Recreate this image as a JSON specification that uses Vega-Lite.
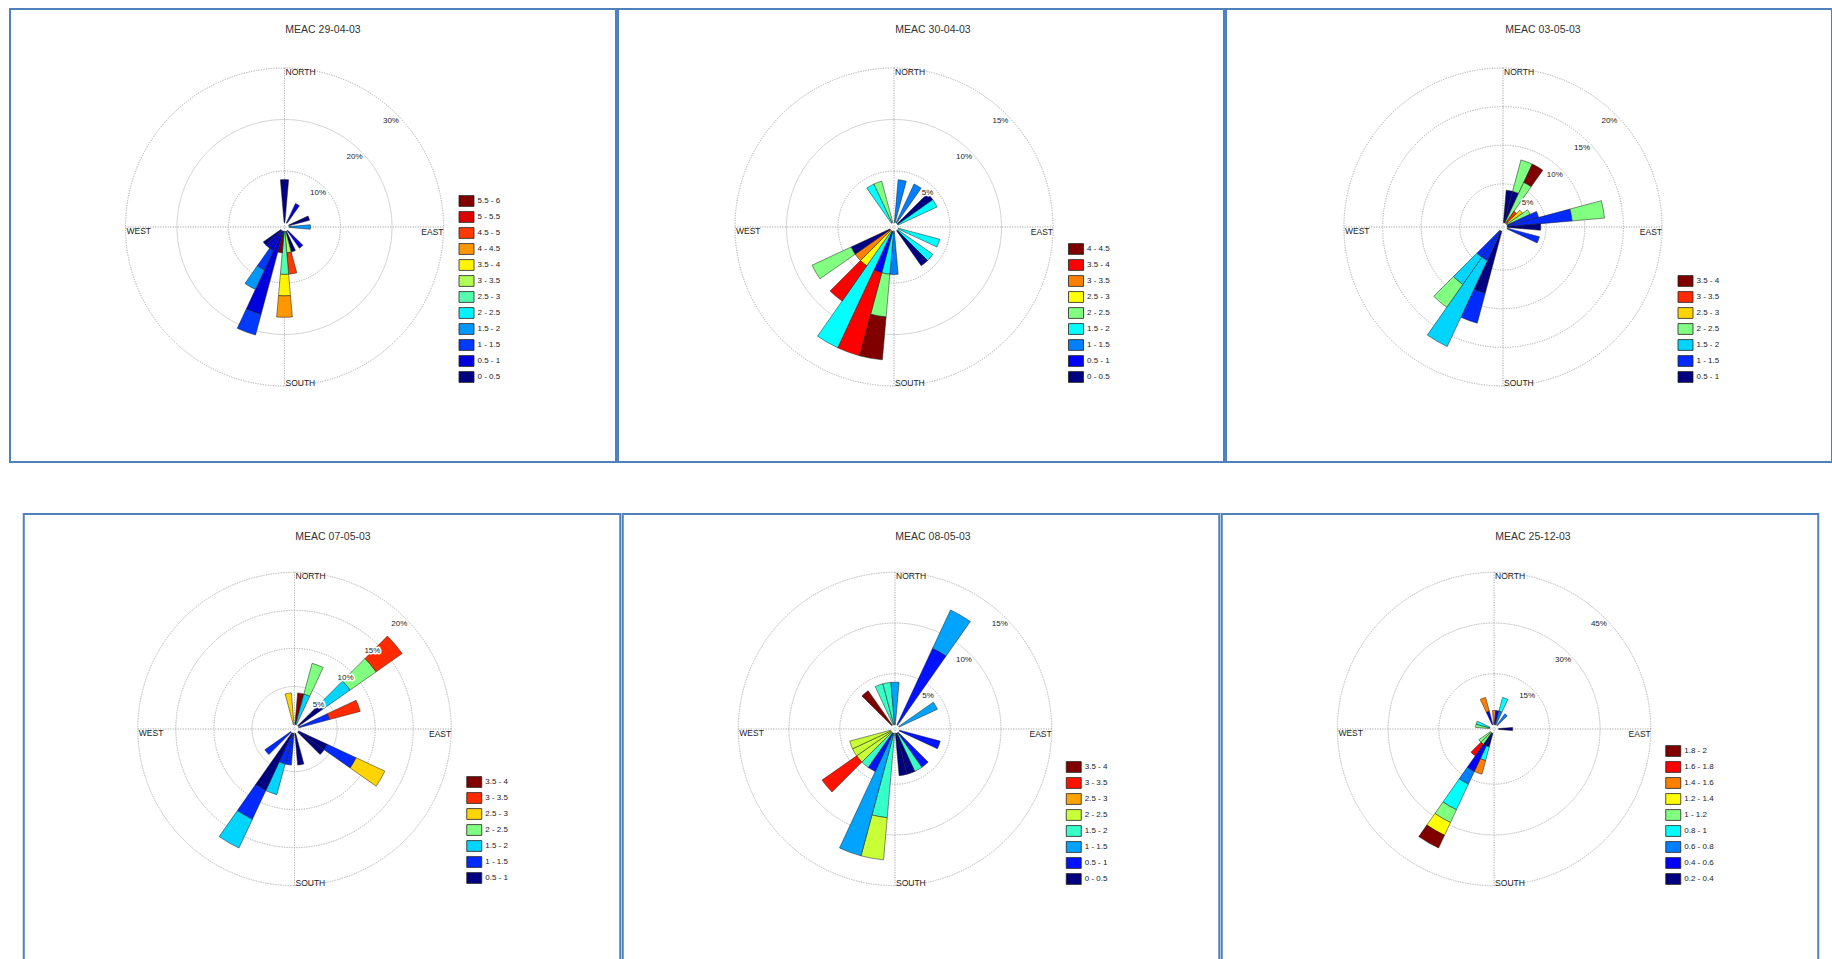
{
"$schema": "https://vega.github.io/schema/vega-lite/v6.json",
"padding": {"left": 9, "top": 8, "right": 0, "bottom": 0},
"background": "white",
"config": {"view": {"stroke": "#4f81bd", "strokeWidth": 2}, "font": "Liberation Sans"},
"datasets": {
"p1": [
{"d":0,"s":"0 - 0.5","v":8.33},
{"d":30,"s":"0.5 - 1","v":4.17},
{"d":70,"s":"0 - 0.5","v":4.17},
{"d":90,"s":"1.5 - 2","v":4.17},
{"d":140,"s":"0.5 - 1","v":4.17},
{"d":160,"s":"0 - 0.5","v":4.17},
{"d":170,"s":"3 - 3.5","v":4.17},{"d":170,"s":"4.5 - 5","v":4.17},
{"d":180,"s":"2.5 - 3","v":8.33},{"d":180,"s":"3.5 - 4","v":4.17},{"d":180,"s":"4 - 4.5","v":4.17},
{"d":190,"s":"5.5 - 6","v":4.17},
{"d":200,"s":"0.5 - 1","v":16.67},{"d":200,"s":"1 - 1.5","v":4.17},
{"d":210,"s":"0.5 - 1","v":4.17},{"d":210,"s":"1 - 1.5","v":4.17},{"d":210,"s":"1.5 - 2","v":4.17},
{"d":220,"s":"0.5 - 1","v":4.17},
{"d":230,"s":"0 - 0.5","v":4.17}
],
"p2": [
{"d":330,"s":"1.5 - 2","v":4.17},
{"d":340,"s":"2 - 2.5","v":4.17},
{"d":10,"s":"1 - 1.5","v":4.17},
{"d":30,"s":"1 - 1.5","v":4.17},
{"d":50,"s":"0 - 0.5","v":4.17},
{"d":60,"s":"1.5 - 2","v":4.17},
{"d":110,"s":"1.5 - 2","v":4.17},
{"d":130,"s":"1.5 - 2","v":4.17},
{"d":140,"s":"0 - 0.5","v":4.17},
{"d":180,"s":"1 - 1.5","v":4.17},
{"d":190,"s":"1.5 - 2","v":4.17},{"d":190,"s":"2 - 2.5","v":4.17},{"d":190,"s":"4 - 4.5","v":4.17},
{"d":200,"s":"0.5 - 1","v":4.17},{"d":200,"s":"3.5 - 4","v":8.33},
{"d":210,"s":"1.5 - 2","v":12.5},
{"d":220,"s":"2.5 - 3","v":4.17},{"d":220,"s":"3.5 - 4","v":4.17},
{"d":230,"s":"3 - 3.5","v":4.17},
{"d":240,"s":"0 - 0.5","v":4.17},{"d":240,"s":"2 - 2.5","v":4.17}
],
"p3": [
{"d":10,"s":"0.5 - 1","v":4.2},
{"d":20,"s":"0.5 - 1","v":4.2},{"d":20,"s":"2 - 2.5","v":4.2},
{"d":30,"s":"2 - 2.5","v":5.8},{"d":30,"s":"3.5 - 4","v":2.6},
{"d":40,"s":"3 - 3.5","v":1.9},
{"d":50,"s":"2.5 - 3","v":2.5},
{"d":60,"s":"2 - 2.5","v":3.3},
{"d":70,"s":"1 - 1.5","v":4.2},
{"d":80,"s":"1 - 1.5","v":8.4},{"d":80,"s":"2 - 2.5","v":4.2},
{"d":90,"s":"0.5 - 1","v":4.3},
{"d":110,"s":"1 - 1.5","v":4.3},
{"d":200,"s":"0.5 - 1","v":8.3},{"d":200,"s":"1 - 1.5","v":4.0},
{"d":210,"s":"1 - 1.5","v":4.2},{"d":210,"s":"1.5 - 2","v":12.3},
{"d":220,"s":"1 - 1.5","v":4.2},{"d":220,"s":"1.5 - 2","v":4.3},{"d":220,"s":"2 - 2.5","v":3.6}
],
"p4": [
{"d":350,"s":"2.5 - 3","v":4.17},
{"d":10,"s":"3.5 - 4","v":4.17},
{"d":20,"s":"1.5 - 2","v":4.17},{"d":20,"s":"2 - 2.5","v":4.17},
{"d":50,"s":"0.5 - 1","v":4.17},{"d":50,"s":"1.5 - 2","v":4.17},{"d":50,"s":"2 - 2.5","v":4.17},{"d":50,"s":"3 - 3.5","v":4.17},
{"d":70,"s":"1 - 1.5","v":4.17},{"d":70,"s":"3 - 3.5","v":4.17},
{"d":120,"s":"0.5 - 1","v":4.17},{"d":120,"s":"1 - 1.5","v":4.17},{"d":120,"s":"2.5 - 3","v":4.17},
{"d":130,"s":"0.5 - 1","v":4.17},
{"d":170,"s":"0.5 - 1","v":4.17},
{"d":190,"s":"1 - 1.5","v":4.17},
{"d":200,"s":"1 - 1.5","v":4.17},{"d":200,"s":"1.5 - 2","v":4.17},
{"d":210,"s":"0.5 - 1","v":8.33},{"d":210,"s":"1 - 1.5","v":4.17},{"d":210,"s":"1.5 - 2","v":4.17},
{"d":230,"s":"1 - 1.5","v":4.17}
],
"p5": [
{"d":320,"s":"3.5 - 4","v":4.17},
{"d":340,"s":"1.5 - 2","v":4.17},
{"d":350,"s":"1.5 - 2","v":4.17},
{"d":0,"s":"1 - 1.5","v":4.17},
{"d":30,"s":"0.5 - 1","v":8.33},{"d":30,"s":"1 - 1.5","v":4.17},
{"d":60,"s":"1 - 1.5","v":4.17},
{"d":110,"s":"0.5 - 1","v":4.17},
{"d":140,"s":"0.5 - 1","v":4.17},
{"d":150,"s":"1.5 - 2","v":4.17},
{"d":160,"s":"0 - 0.5","v":4.17},
{"d":170,"s":"0 - 0.5","v":4.17},
{"d":190,"s":"1.5 - 2","v":8.33},{"d":190,"s":"2 - 2.5","v":4.17},
{"d":200,"s":"1 - 1.5","v":12.5},
{"d":210,"s":"0.5 - 1","v":4.17},
{"d":220,"s":"1.5 - 2","v":4.17},
{"d":230,"s":"2 - 2.5","v":4.17},{"d":230,"s":"3 - 3.5","v":4.17},
{"d":240,"s":"2 - 2.5","v":4.17},
{"d":250,"s":"2 - 2.5","v":4.17}
],
"p6": [
{"d":0,"s":"1.4 - 1.6","v":4.17},
{"d":10,"s":"0.4 - 0.6","v":4.17},
{"d":20,"s":"0.6 - 0.8","v":4.17},{"d":20,"s":"0.8 - 1","v":4.17},
{"d":40,"s":"0.6 - 0.8","v":4.17},
{"d":90,"s":"0.2 - 0.4","v":4.17},
{"d":200,"s":"0.2 - 0.4","v":4.17},{"d":200,"s":"0.8 - 1","v":4.17},{"d":200,"s":"1.4 - 1.6","v":4.17},
{"d":210,"s":"0.2 - 0.4","v":4.17},{"d":210,"s":"0.4 - 0.6","v":8.33},{"d":210,"s":"0.6 - 0.8","v":4.17},{"d":210,"s":"0.8 - 1","v":8.33},{"d":210,"s":"1 - 1.2","v":4.17},{"d":210,"s":"1.2 - 1.4","v":4.17},{"d":210,"s":"1.8 - 2","v":4.17},
{"d":220,"s":"1 - 1.2","v":4.17},{"d":220,"s":"1.6 - 1.8","v":4.17},
{"d":230,"s":"1 - 1.2","v":4.17},
{"d":280,"s":"1 - 1.2","v":4.17},
{"d":290,"s":"0.8 - 1","v":4.17},
{"d":340,"s":"0.4 - 0.6","v":4.17},{"d":340,"s":"1.4 - 1.6","v":4.17}
]
},
"spacing": 50,
"center": true,
"resolve": {"scale": {"color": "independent", "theta": "independent", "radius": "independent", "x": "independent", "y": "independent"}, "legend": {"color": "independent"}},
"vconcat": [
{"hconcat": [
{
"width": 606, "height": 453,
"title": {"text": "MEAC 29-04-03", "offset": -34, "dx": 10, "baseline": "alphabetic", "fontSize": 10.5, "fontWeight": "normal", "color": "#333333"},
"encoding": {
"x": {"datum": 0, "type": "quantitative", "scale": {"domain": [-274.5, 331.5], "nice": false, "zero": false}, "axis": null},
"y": {"datum": 0, "type": "quantitative", "scale": {"domain": [-235, 218], "nice": false, "zero": false}, "axis": null}
},
"layer": [
{"data": {"values": [{"g": 10}, {"g": 20}, {"g": 30}]},
 "mark": {"type": "arc", "filled": false, "stroke": "#b5b5b5", "strokeWidth": 0.8, "strokeDash": [1, 1.5]},
 "encoding": {
  "theta": {"datum": 0, "type": "quantitative", "scale": {"type": "linear", "domain": [0, 360], "range": [0, 6.283185307179586], "nice": false, "zero": false}},
  "theta2": {"datum": 360},
  "radius": {"field": "g", "type": "quantitative", "scale": {"type": "linear", "domain": [-0.874, 30], "range": [0, 159], "nice": false, "zero": false}},
  "radius2": {"field": "g"}}},
{"data": {"values": [{"a": 0}, {"a": 90}, {"a": 180}, {"a": 270}]},
 "mark": {"type": "arc", "filled": false, "stroke": "#b5b5b5", "strokeWidth": 0.8, "strokeDash": [1, 1.5]},
 "encoding": {
  "theta": {"field": "a", "type": "quantitative", "stack": null},
  "theta2": {"field": "a"},
  "radius": {"datum": -0.874, "type": "quantitative"},
  "radius2": {"datum": 30}}},
{"data": {"name": "p1"},
 "transform": [
  {"stack": "v", "groupby": ["d"], "sort": [{"field": "s", "order": "ascending"}], "as": ["r0", "r1"]},
  {"calculate": "datum.d - 5", "as": "t0"},
  {"calculate": "datum.d + 5", "as": "t1"}],
 "mark": {"type": "arc", "stroke": "#1a1a1a", "strokeWidth": 0.5},
 "encoding": {
  "theta": {"field": "t0", "type": "quantitative", "stack": null},
  "theta2": {"field": "t1"},
  "radius": {"field": "r0", "type": "quantitative"},
  "radius2": {"field": "r1"},
  "color": {"field": "s", "type": "nominal",
   "scale": {"domain": ["5.5 - 6","5 - 5.5","4.5 - 5","4 - 4.5","3.5 - 4","3 - 3.5","2.5 - 3","2 - 2.5","1.5 - 2","1 - 1.5","0.5 - 1","0 - 0.5"],
             "range": ["#800000","#dc0000","#ff3a00","#ff9700","#fff400","#aeff51","#51ffae","#00f4ff","#0097ff","#003aff","#0000dc","#000080"]},
   "legend": {"title": null, "orient": "none", "legendX": 448.5, "legendY": 184, "padding": 0, "symbolType": "M-1,-0.72H1V0.72H-1Z", "symbolSize": 225, "symbolStrokeColor": "#222222", "symbolStrokeWidth": 0.8, "labelFontSize": 8, "labelColor": "#222222", "labelOffset": 3, "rowPadding": 1}}}},
{"data": {"values": [{"t": "NORTH", "a": 0}, {"t": "WEST", "a": 270}]},
 "mark": {"type": "text", "align": "left", "baseline": "top", "dx": 1, "fontSize": 8.5, "color": "#222222"},
 "encoding": {"theta": {"field": "a", "type": "quantitative", "stack": null}, "radius": {"datum": 30, "type": "quantitative"}, "text": {"field": "t"}}},
{"data": {"values": [{"t": "SOUTH", "a": 180}]},
 "mark": {"type": "text", "align": "left", "baseline": "alphabetic", "dx": 1, "fontSize": 8.5, "color": "#222222"},
 "encoding": {"theta": {"field": "a", "type": "quantitative", "stack": null}, "radius": {"datum": 30, "type": "quantitative"}, "text": {"field": "t"}}},
{"data": {"values": [{"t": "EAST", "a": 90}]},
 "mark": {"type": "text", "align": "right", "baseline": "top", "dy": 1, "fontSize": 8.5, "color": "#222222"},
 "encoding": {"theta": {"field": "a", "type": "quantitative", "stack": null}, "radius": {"datum": 30, "type": "quantitative"}, "text": {"field": "t"}}},
{"data": {"values": [{"g": 10, "t": "10%"}, {"g": 20, "t": "20%"}, {"g": 30, "t": "30%"}]},
 "mark": {"type": "text", "dx": -6, "dy": 6, "fontSize": 8, "fill": "white", "stroke": "white", "strokeWidth": 3, "strokeJoin": "round"},
 "encoding": {"theta": {"datum": 45, "type": "quantitative"}, "radius": {"field": "g", "type": "quantitative"}, "text": {"field": "t"}}},
{"data": {"values": [{"g": 10, "t": "10%"}, {"g": 20, "t": "20%"}, {"g": 30, "t": "30%"}]},
 "mark": {"type": "text", "dx": -6, "dy": 6, "fontSize": 8, "color": "#222222"},
 "encoding": {"theta": {"datum": 45, "type": "quantitative"}, "radius": {"field": "g", "type": "quantitative"}, "text": {"field": "t"}}}
]
},
{
"width": 606, "height": 453,
"title": {"text": "MEAC 30-04-03", "offset": -34, "dx": 12, "baseline": "alphabetic", "fontSize": 10.5, "fontWeight": "normal", "color": "#333333"},
"encoding": {
"x": {"datum": 0, "type": "quantitative", "scale": {"domain": [-276, 330], "nice": false, "zero": false}, "axis": null},
"y": {"datum": 0, "type": "quantitative", "scale": {"domain": [-235, 218], "nice": false, "zero": false}, "axis": null}
},
"layer": [
{"data": {"values": [{"g": 5}, {"g": 10}, {"g": 15}]},
 "mark": {"type": "arc", "filled": false, "stroke": "#b5b5b5", "strokeWidth": 0.8, "strokeDash": [1, 1.5]},
 "encoding": {
  "theta": {"datum": 0, "type": "quantitative", "scale": {"type": "linear", "domain": [0, 360], "range": [0, 6.283185307179586], "nice": false, "zero": false}},
  "theta2": {"datum": 360},
  "radius": {"field": "g", "type": "quantitative", "scale": {"type": "linear", "domain": [-0.437, 15], "range": [0, 159], "nice": false, "zero": false}},
  "radius2": {"field": "g"}}},
{"data": {"values": [{"a": 0}, {"a": 90}, {"a": 180}, {"a": 270}]},
 "mark": {"type": "arc", "filled": false, "stroke": "#b5b5b5", "strokeWidth": 0.8, "strokeDash": [1, 1.5]},
 "encoding": {
  "theta": {"field": "a", "type": "quantitative", "stack": null},
  "theta2": {"field": "a"},
  "radius": {"datum": -0.437, "type": "quantitative"},
  "radius2": {"datum": 15}}},
{"data": {"name": "p2"},
 "transform": [
  {"stack": "v", "groupby": ["d"], "sort": [{"field": "s", "order": "ascending"}], "as": ["r0", "r1"]},
  {"calculate": "datum.d - 5", "as": "t0"},
  {"calculate": "datum.d + 5", "as": "t1"}],
 "mark": {"type": "arc", "stroke": "#1a1a1a", "strokeWidth": 0.5},
 "encoding": {
  "theta": {"field": "t0", "type": "quantitative", "stack": null},
  "theta2": {"field": "t1"},
  "radius": {"field": "r0", "type": "quantitative"},
  "radius2": {"field": "r1"},
  "color": {"field": "s", "type": "nominal",
   "scale": {"domain": ["4 - 4.5","3.5 - 4","3 - 3.5","2.5 - 3","2 - 2.5","1.5 - 2","1 - 1.5","0.5 - 1","0 - 0.5"],
             "range": ["#800000","#ff0000","#ff8000","#ffff00","#80ff80","#00ffff","#0080ff","#0000ff","#000080"]},
   "legend": {"title": null, "orient": "none", "legendX": 450, "legendY": 232, "padding": 0, "symbolType": "M-1,-0.72H1V0.72H-1Z", "symbolSize": 225, "symbolStrokeColor": "#222222", "symbolStrokeWidth": 0.8, "labelFontSize": 8, "labelColor": "#222222", "labelOffset": 3, "rowPadding": 1}}}},
{"data": {"values": [{"t": "NORTH", "a": 0}, {"t": "WEST", "a": 270}]},
 "mark": {"type": "text", "align": "left", "baseline": "top", "dx": 1, "fontSize": 8.5, "color": "#222222"},
 "encoding": {"theta": {"field": "a", "type": "quantitative", "stack": null}, "radius": {"datum": 15, "type": "quantitative"}, "text": {"field": "t"}}},
{"data": {"values": [{"t": "SOUTH", "a": 180}]},
 "mark": {"type": "text", "align": "left", "baseline": "alphabetic", "dx": 1, "fontSize": 8.5, "color": "#222222"},
 "encoding": {"theta": {"field": "a", "type": "quantitative", "stack": null}, "radius": {"datum": 15, "type": "quantitative"}, "text": {"field": "t"}}},
{"data": {"values": [{"t": "EAST", "a": 90}]},
 "mark": {"type": "text", "align": "right", "baseline": "top", "dy": 1, "fontSize": 8.5, "color": "#222222"},
 "encoding": {"theta": {"field": "a", "type": "quantitative", "stack": null}, "radius": {"datum": 15, "type": "quantitative"}, "text": {"field": "t"}}},
{"data": {"values": [{"g": 5, "t": "5%"}, {"g": 10, "t": "10%"}, {"g": 15, "t": "15%"}]},
 "mark": {"type": "text", "dx": -6, "dy": 6, "fontSize": 8, "fill": "white", "stroke": "white", "strokeWidth": 3, "strokeJoin": "round"},
 "encoding": {"theta": {"datum": 45, "type": "quantitative"}, "radius": {"field": "g", "type": "quantitative"}, "text": {"field": "t"}}},
{"data": {"values": [{"g": 5, "t": "5%"}, {"g": 10, "t": "10%"}, {"g": 15, "t": "15%"}]},
 "mark": {"type": "text", "dx": -6, "dy": 6, "fontSize": 8, "color": "#222222"},
 "encoding": {"theta": {"datum": 45, "type": "quantitative"}, "radius": {"field": "g", "type": "quantitative"}, "text": {"field": "t"}}}
]
},
{
"width": 606, "height": 453,
"title": {"text": "MEAC 03-05-03", "offset": -34, "dx": 14, "baseline": "alphabetic", "fontSize": 10.5, "fontWeight": "normal", "color": "#333333"},
"encoding": {
"x": {"datum": 0, "type": "quantitative", "scale": {"domain": [-277, 329], "nice": false, "zero": false}, "axis": null},
"y": {"datum": 0, "type": "quantitative", "scale": {"domain": [-235, 218], "nice": false, "zero": false}, "axis": null}
},
"layer": [
{"data": {"values": [{"g": 5}, {"g": 10}, {"g": 15}, {"g": 20}]},
 "mark": {"type": "arc", "filled": false, "stroke": "#b5b5b5", "strokeWidth": 0.8, "strokeDash": [1, 1.5]},
 "encoding": {
  "theta": {"datum": 0, "type": "quantitative", "scale": {"type": "linear", "domain": [0, 360], "range": [0, 6.283185307179586], "nice": false, "zero": false}},
  "theta2": {"datum": 360},
  "radius": {"field": "g", "type": "quantitative", "scale": {"type": "linear", "domain": [-0.583, 20], "range": [0, 159], "nice": false, "zero": false}},
  "radius2": {"field": "g"}}},
{"data": {"values": [{"a": 0}, {"a": 90}, {"a": 180}, {"a": 270}]},
 "mark": {"type": "arc", "filled": false, "stroke": "#b5b5b5", "strokeWidth": 0.8, "strokeDash": [1, 1.5]},
 "encoding": {
  "theta": {"field": "a", "type": "quantitative", "stack": null},
  "theta2": {"field": "a"},
  "radius": {"datum": -0.583, "type": "quantitative"},
  "radius2": {"datum": 20}}},
{"data": {"name": "p3"},
 "transform": [
  {"stack": "v", "groupby": ["d"], "sort": [{"field": "s", "order": "ascending"}], "as": ["r0", "r1"]},
  {"calculate": "datum.d - 5", "as": "t0"},
  {"calculate": "datum.d + 5", "as": "t1"}],
 "mark": {"type": "arc", "stroke": "#1a1a1a", "strokeWidth": 0.5},
 "encoding": {
  "theta": {"field": "t0", "type": "quantitative", "stack": null},
  "theta2": {"field": "t1"},
  "radius": {"field": "r0", "type": "quantitative"},
  "radius2": {"field": "r1"},
  "color": {"field": "s", "type": "nominal",
   "scale": {"domain": ["3.5 - 4","3 - 3.5","2.5 - 3","2 - 2.5","1.5 - 2","1 - 1.5","0.5 - 1"],
             "range": ["#800000","#ff2a00","#ffd400","#80ff80","#00d4ff","#002aff","#000080"]},
   "legend": {"title": null, "orient": "none", "legendX": 451.5, "legendY": 264, "padding": 0, "symbolType": "M-1,-0.72H1V0.72H-1Z", "symbolSize": 225, "symbolStrokeColor": "#222222", "symbolStrokeWidth": 0.8, "labelFontSize": 8, "labelColor": "#222222", "labelOffset": 3, "rowPadding": 1}}}},
{"data": {"values": [{"t": "NORTH", "a": 0}, {"t": "WEST", "a": 270}]},
 "mark": {"type": "text", "align": "left", "baseline": "top", "dx": 1, "fontSize": 8.5, "color": "#222222"},
 "encoding": {"theta": {"field": "a", "type": "quantitative", "stack": null}, "radius": {"datum": 20, "type": "quantitative"}, "text": {"field": "t"}}},
{"data": {"values": [{"t": "SOUTH", "a": 180}]},
 "mark": {"type": "text", "align": "left", "baseline": "alphabetic", "dx": 1, "fontSize": 8.5, "color": "#222222"},
 "encoding": {"theta": {"field": "a", "type": "quantitative", "stack": null}, "radius": {"datum": 20, "type": "quantitative"}, "text": {"field": "t"}}},
{"data": {"values": [{"t": "EAST", "a": 90}]},
 "mark": {"type": "text", "align": "right", "baseline": "top", "dy": 1, "fontSize": 8.5, "color": "#222222"},
 "encoding": {"theta": {"field": "a", "type": "quantitative", "stack": null}, "radius": {"datum": 20, "type": "quantitative"}, "text": {"field": "t"}}},
{"data": {"values": [{"g": 5, "t": "5%"}, {"g": 10, "t": "10%"}, {"g": 15, "t": "15%"}, {"g": 20, "t": "20%"}]},
 "mark": {"type": "text", "dx": -6, "dy": 6, "fontSize": 8, "fill": "white", "stroke": "white", "strokeWidth": 3, "strokeJoin": "round"},
 "encoding": {"theta": {"datum": 45, "type": "quantitative"}, "radius": {"field": "g", "type": "quantitative"}, "text": {"field": "t"}}},
{"data": {"values": [{"g": 5, "t": "5%"}, {"g": 10, "t": "10%"}, {"g": 15, "t": "15%"}, {"g": 20, "t": "20%"}]},
 "mark": {"type": "text", "dx": -6, "dy": 6, "fontSize": 8, "color": "#222222"},
 "encoding": {"theta": {"datum": 45, "type": "quantitative"}, "radius": {"field": "g", "type": "quantitative"}, "text": {"field": "t"}}}
]
}
], "spacing": 0,
"resolve": {"scale": {"color": "independent", "theta": "independent", "radius": "independent", "x": "independent", "y": "independent"}, "legend": {"color": "independent"}}},
{"hconcat": [
{
"width": 596.5, "height": 450,
"title": {"text": "MEAC 07-05-03", "offset": -36, "dx": 11, "baseline": "alphabetic", "fontSize": 10.5, "fontWeight": "normal", "color": "#333333"},
"encoding": {
"x": {"datum": 0, "type": "quantitative", "scale": {"domain": [-270.75, 325.75], "nice": false, "zero": false}, "axis": null},
"y": {"datum": 0, "type": "quantitative", "scale": {"domain": [-235, 215], "nice": false, "zero": false}, "axis": null}
},
"layer": [
{"data": {"values": [{"g": 5}, {"g": 10}, {"g": 15}, {"g": 20}]},
 "mark": {"type": "arc", "filled": false, "stroke": "#b5b5b5", "strokeWidth": 0.8, "strokeDash": [1, 1.5]},
 "encoding": {
  "theta": {"datum": 0, "type": "quantitative", "scale": {"type": "linear", "domain": [0, 360], "range": [0, 6.283185307179586], "nice": false, "zero": false}},
  "theta2": {"datum": 360},
  "radius": {"field": "g", "type": "quantitative", "scale": {"type": "linear", "domain": [-0.591, 20], "range": [0, 156.7], "nice": false, "zero": false}},
  "radius2": {"field": "g"}}},
{"data": {"values": [{"a": 0}, {"a": 90}, {"a": 180}, {"a": 270}]},
 "mark": {"type": "arc", "filled": false, "stroke": "#b5b5b5", "strokeWidth": 0.8, "strokeDash": [1, 1.5]},
 "encoding": {
  "theta": {"field": "a", "type": "quantitative", "stack": null},
  "theta2": {"field": "a"},
  "radius": {"datum": -0.591, "type": "quantitative"},
  "radius2": {"datum": 20}}},
{"data": {"name": "p4"},
 "transform": [
  {"stack": "v", "groupby": ["d"], "sort": [{"field": "s", "order": "ascending"}], "as": ["r0", "r1"]},
  {"calculate": "datum.d - 5", "as": "t0"},
  {"calculate": "datum.d + 5", "as": "t1"}],
 "mark": {"type": "arc", "stroke": "#1a1a1a", "strokeWidth": 0.5},
 "encoding": {
  "theta": {"field": "t0", "type": "quantitative", "stack": null},
  "theta2": {"field": "t1"},
  "radius": {"field": "r0", "type": "quantitative"},
  "radius2": {"field": "r1"},
  "color": {"field": "s", "type": "nominal",
   "scale": {"domain": ["3.5 - 4","3 - 3.5","2.5 - 3","2 - 2.5","1.5 - 2","1 - 1.5","0.5 - 1"],
             "range": ["#800000","#ff2a00","#ffd400","#80ff80","#00d4ff","#002aff","#000080"]},
   "legend": {"title": null, "orient": "none", "legendX": 442.5, "legendY": 260, "padding": 0, "symbolType": "M-1,-0.72H1V0.72H-1Z", "symbolSize": 225, "symbolStrokeColor": "#222222", "symbolStrokeWidth": 0.8, "labelFontSize": 8, "labelColor": "#222222", "labelOffset": 3, "rowPadding": 1}}}},
{"data": {"values": [{"t": "NORTH", "a": 0}, {"t": "WEST", "a": 270}]},
 "mark": {"type": "text", "align": "left", "baseline": "top", "dx": 1, "fontSize": 8.5, "color": "#222222"},
 "encoding": {"theta": {"field": "a", "type": "quantitative", "stack": null}, "radius": {"datum": 20, "type": "quantitative"}, "text": {"field": "t"}}},
{"data": {"values": [{"t": "SOUTH", "a": 180}]},
 "mark": {"type": "text", "align": "left", "baseline": "alphabetic", "dx": 1, "fontSize": 8.5, "color": "#222222"},
 "encoding": {"theta": {"field": "a", "type": "quantitative", "stack": null}, "radius": {"datum": 20, "type": "quantitative"}, "text": {"field": "t"}}},
{"data": {"values": [{"t": "EAST", "a": 90}]},
 "mark": {"type": "text", "align": "right", "baseline": "top", "dy": 1, "fontSize": 8.5, "color": "#222222"},
 "encoding": {"theta": {"field": "a", "type": "quantitative", "stack": null}, "radius": {"datum": 20, "type": "quantitative"}, "text": {"field": "t"}}},
{"data": {"values": [{"g": 5, "t": "5%"}, {"g": 10, "t": "10%"}, {"g": 15, "t": "15%"}, {"g": 20, "t": "20%"}]},
 "mark": {"type": "text", "dx": -6, "dy": 6, "fontSize": 8, "fill": "white", "stroke": "white", "strokeWidth": 3, "strokeJoin": "round"},
 "encoding": {"theta": {"datum": 45, "type": "quantitative"}, "radius": {"field": "g", "type": "quantitative"}, "text": {"field": "t"}}},
{"data": {"values": [{"g": 5, "t": "5%"}, {"g": 10, "t": "10%"}, {"g": 15, "t": "15%"}, {"g": 20, "t": "20%"}]},
 "mark": {"type": "text", "dx": -6, "dy": 6, "fontSize": 8, "color": "#222222"},
 "encoding": {"theta": {"datum": 45, "type": "quantitative"}, "radius": {"field": "g", "type": "quantitative"}, "text": {"field": "t"}}}
]
},
{
"width": 596.5, "height": 450,
"title": {"text": "MEAC 08-05-03", "offset": -36, "dx": 12, "baseline": "alphabetic", "fontSize": 10.5, "fontWeight": "normal", "color": "#333333"},
"encoding": {
"x": {"datum": 0, "type": "quantitative", "scale": {"domain": [-272.25, 324.25], "nice": false, "zero": false}, "axis": null},
"y": {"datum": 0, "type": "quantitative", "scale": {"domain": [-235, 215], "nice": false, "zero": false}, "axis": null}
},
"layer": [
{"data": {"values": [{"g": 5}, {"g": 10}, {"g": 15}]},
 "mark": {"type": "arc", "filled": false, "stroke": "#b5b5b5", "strokeWidth": 0.8, "strokeDash": [1, 1.5]},
 "encoding": {
  "theta": {"datum": 0, "type": "quantitative", "scale": {"type": "linear", "domain": [0, 360], "range": [0, 6.283185307179586], "nice": false, "zero": false}},
  "theta2": {"datum": 360},
  "radius": {"field": "g", "type": "quantitative", "scale": {"type": "linear", "domain": [-0.4435, 15], "range": [0, 156.7], "nice": false, "zero": false}},
  "radius2": {"field": "g"}}},
{"data": {"values": [{"a": 0}, {"a": 90}, {"a": 180}, {"a": 270}]},
 "mark": {"type": "arc", "filled": false, "stroke": "#b5b5b5", "strokeWidth": 0.8, "strokeDash": [1, 1.5]},
 "encoding": {
  "theta": {"field": "a", "type": "quantitative", "stack": null},
  "theta2": {"field": "a"},
  "radius": {"datum": -0.4435, "type": "quantitative"},
  "radius2": {"datum": 15}}},
{"data": {"name": "p5"},
 "transform": [
  {"stack": "v", "groupby": ["d"], "sort": [{"field": "s", "order": "ascending"}], "as": ["r0", "r1"]},
  {"calculate": "datum.d - 5", "as": "t0"},
  {"calculate": "datum.d + 5", "as": "t1"}],
 "mark": {"type": "arc", "stroke": "#1a1a1a", "strokeWidth": 0.5},
 "encoding": {
  "theta": {"field": "t0", "type": "quantitative", "stack": null},
  "theta2": {"field": "t1"},
  "radius": {"field": "r0", "type": "quantitative"},
  "radius2": {"field": "r1"},
  "color": {"field": "s", "type": "nominal",
   "scale": {"domain": ["3.5 - 4","3 - 3.5","2.5 - 3","2 - 2.5","1.5 - 2","1 - 1.5","0.5 - 1","0 - 0.5"],
             "range": ["#800000","#ff1200","#ffa400","#c8ff37","#37ffc8","#00a4ff","#0012ff","#000080"]},
   "legend": {"title": null, "orient": "none", "legendX": 443, "legendY": 245, "padding": 0, "symbolType": "M-1,-0.72H1V0.72H-1Z", "symbolSize": 225, "symbolStrokeColor": "#222222", "symbolStrokeWidth": 0.8, "labelFontSize": 8, "labelColor": "#222222", "labelOffset": 3, "rowPadding": 1}}}},
{"data": {"values": [{"t": "NORTH", "a": 0}, {"t": "WEST", "a": 270}]},
 "mark": {"type": "text", "align": "left", "baseline": "top", "dx": 1, "fontSize": 8.5, "color": "#222222"},
 "encoding": {"theta": {"field": "a", "type": "quantitative", "stack": null}, "radius": {"datum": 15, "type": "quantitative"}, "text": {"field": "t"}}},
{"data": {"values": [{"t": "SOUTH", "a": 180}]},
 "mark": {"type": "text", "align": "left", "baseline": "alphabetic", "dx": 1, "fontSize": 8.5, "color": "#222222"},
 "encoding": {"theta": {"field": "a", "type": "quantitative", "stack": null}, "radius": {"datum": 15, "type": "quantitative"}, "text": {"field": "t"}}},
{"data": {"values": [{"t": "EAST", "a": 90}]},
 "mark": {"type": "text", "align": "right", "baseline": "top", "dy": 1, "fontSize": 8.5, "color": "#222222"},
 "encoding": {"theta": {"field": "a", "type": "quantitative", "stack": null}, "radius": {"datum": 15, "type": "quantitative"}, "text": {"field": "t"}}},
{"data": {"values": [{"g": 5, "t": "5%"}, {"g": 10, "t": "10%"}, {"g": 15, "t": "15%"}]},
 "mark": {"type": "text", "dx": -6, "dy": 6, "fontSize": 8, "fill": "white", "stroke": "white", "strokeWidth": 3, "strokeJoin": "round"},
 "encoding": {"theta": {"datum": 45, "type": "quantitative"}, "radius": {"field": "g", "type": "quantitative"}, "text": {"field": "t"}}},
{"data": {"values": [{"g": 5, "t": "5%"}, {"g": 10, "t": "10%"}, {"g": 15, "t": "15%"}]},
 "mark": {"type": "text", "dx": -6, "dy": 6, "fontSize": 8, "color": "#222222"},
 "encoding": {"theta": {"datum": 45, "type": "quantitative"}, "radius": {"field": "g", "type": "quantitative"}, "text": {"field": "t"}}}
]
},
{
"width": 596.5, "height": 450,
"title": {"text": "MEAC 25-12-03", "offset": -36, "dx": 13, "baseline": "alphabetic", "fontSize": 10.5, "fontWeight": "normal", "color": "#333333"},
"encoding": {
"x": {"datum": 0, "type": "quantitative", "scale": {"domain": [-272.35, 324.15], "nice": false, "zero": false}, "axis": null},
"y": {"datum": 0, "type": "quantitative", "scale": {"domain": [-235, 215], "nice": false, "zero": false}, "axis": null}
},
"layer": [
{"data": {"values": [{"g": 15}, {"g": 30}, {"g": 45}]},
 "mark": {"type": "arc", "filled": false, "stroke": "#b5b5b5", "strokeWidth": 0.8, "strokeDash": [1, 1.5]},
 "encoding": {
  "theta": {"datum": 0, "type": "quantitative", "scale": {"type": "linear", "domain": [0, 360], "range": [0, 6.283185307179586], "nice": false, "zero": false}},
  "theta2": {"datum": 360},
  "radius": {"field": "g", "type": "quantitative", "scale": {"type": "linear", "domain": [-1.331, 45], "range": [0, 156.7], "nice": false, "zero": false}},
  "radius2": {"field": "g"}}},
{"data": {"values": [{"a": 0}, {"a": 90}, {"a": 180}, {"a": 270}]},
 "mark": {"type": "arc", "filled": false, "stroke": "#b5b5b5", "strokeWidth": 0.8, "strokeDash": [1, 1.5]},
 "encoding": {
  "theta": {"field": "a", "type": "quantitative", "stack": null},
  "theta2": {"field": "a"},
  "radius": {"datum": -1.331, "type": "quantitative"},
  "radius2": {"datum": 45}}},
{"data": {"name": "p6"},
 "transform": [
  {"stack": "v", "groupby": ["d"], "sort": [{"field": "s", "order": "ascending"}], "as": ["r0", "r1"]},
  {"calculate": "datum.d - 5", "as": "t0"},
  {"calculate": "datum.d + 5", "as": "t1"}],
 "mark": {"type": "arc", "stroke": "#1a1a1a", "strokeWidth": 0.5},
 "encoding": {
  "theta": {"field": "t0", "type": "quantitative", "stack": null},
  "theta2": {"field": "t1"},
  "radius": {"field": "r0", "type": "quantitative"},
  "radius2": {"field": "r1"},
  "color": {"field": "s", "type": "nominal",
   "scale": {"domain": ["1.8 - 2","1.6 - 1.8","1.4 - 1.6","1.2 - 1.4","1 - 1.2","0.8 - 1","0.6 - 0.8","0.4 - 0.6","0.2 - 0.4"],
             "range": ["#800000","#ff0000","#ff8000","#ffff00","#80ff80","#00ffff","#0080ff","#0000ff","#000080"]},
   "legend": {"title": null, "orient": "none", "legendX": 443.5, "legendY": 229, "padding": 0, "symbolType": "M-1,-0.72H1V0.72H-1Z", "symbolSize": 225, "symbolStrokeColor": "#222222", "symbolStrokeWidth": 0.8, "labelFontSize": 8, "labelColor": "#222222", "labelOffset": 3, "rowPadding": 1}}}},
{"data": {"values": [{"t": "NORTH", "a": 0}, {"t": "WEST", "a": 270}]},
 "mark": {"type": "text", "align": "left", "baseline": "top", "dx": 1, "fontSize": 8.5, "color": "#222222"},
 "encoding": {"theta": {"field": "a", "type": "quantitative", "stack": null}, "radius": {"datum": 45, "type": "quantitative"}, "text": {"field": "t"}}},
{"data": {"values": [{"t": "SOUTH", "a": 180}]},
 "mark": {"type": "text", "align": "left", "baseline": "alphabetic", "dx": 1, "fontSize": 8.5, "color": "#222222"},
 "encoding": {"theta": {"field": "a", "type": "quantitative", "stack": null}, "radius": {"datum": 45, "type": "quantitative"}, "text": {"field": "t"}}},
{"data": {"values": [{"t": "EAST", "a": 90}]},
 "mark": {"type": "text", "align": "right", "baseline": "top", "dy": 1, "fontSize": 8.5, "color": "#222222"},
 "encoding": {"theta": {"field": "a", "type": "quantitative", "stack": null}, "radius": {"datum": 45, "type": "quantitative"}, "text": {"field": "t"}}},
{"data": {"values": [{"g": 15, "t": "15%"}, {"g": 30, "t": "30%"}, {"g": 45, "t": "45%"}]},
 "mark": {"type": "text", "dx": -6, "dy": 6, "fontSize": 8, "fill": "white", "stroke": "white", "strokeWidth": 3, "strokeJoin": "round"},
 "encoding": {"theta": {"datum": 45, "type": "quantitative"}, "radius": {"field": "g", "type": "quantitative"}, "text": {"field": "t"}}},
{"data": {"values": [{"g": 15, "t": "15%"}, {"g": 30, "t": "30%"}, {"g": 45, "t": "45%"}]},
 "mark": {"type": "text", "dx": -6, "dy": 6, "fontSize": 8, "color": "#222222"},
 "encoding": {"theta": {"datum": 45, "type": "quantitative"}, "radius": {"field": "g", "type": "quantitative"}, "text": {"field": "t"}}}
]
}
], "spacing": 0,
"resolve": {"scale": {"color": "independent", "theta": "independent", "radius": "independent", "x": "independent", "y": "independent"}, "legend": {"color": "independent"}}}
]
}
